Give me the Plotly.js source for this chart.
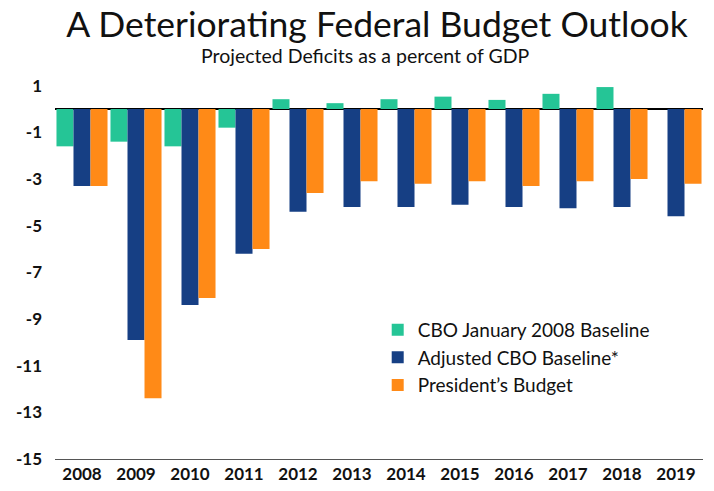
<!DOCTYPE html>
<html>
<head>
<meta charset="utf-8">
<script src="https://cdn.plot.ly/plotly-3.0.1.min.js"></script>
<style>html,body{margin:0;padding:0;background:#fff;}#chart{width:714px;height:491px;}</style>
</head>
<body>
<div id="chart"></div>
<script>
const years = ['2008','2009','2010','2011','2012','2013','2014','2015','2016','2017','2018','2019'];
const cboJan2008 = [-1.6, -1.4, -1.6, -0.8, 0.42, 0.25, 0.42, 0.53, 0.39, 0.65, 0.94, null];
const adjustedCbo = [-3.3, -9.9, -8.4, -6.2, -4.4, -4.2, -4.2, -4.1, -4.2, -4.25, -4.2, -4.6];
const presidentsBudget = [-3.3, -12.4, -8.1, -6.0, -3.6, -3.1, -3.2, -3.1, -3.3, -3.1, -3.0, -3.2];
const seriesNames = ['CBO January 2008 Baseline', 'Adjusted CBO Baseline*', "President\u2019s Budget"];
const yTicks = [1, -1, -3, -5, -7, -9, -11, -13, -15];

const FONT = 'Gill Sans, "Gill Sans MT", Lato, sans-serif';
const traces = [
  {type:'bar', x: years, y: cboJan2008, name: seriesNames[0], marker:{color:'#25c596'}},
  {type:'bar', x: years, y: adjustedCbo, name: seriesNames[1], marker:{color:'#163f84'}},
  {type:'bar', x: years, y: presidentsBudget, name: seriesNames[2], marker:{color:'#ff8a17'}}
];
const layout = {
  width: 714, height: 491,
  margin: {l: 55, r: 11, t: 81, b: 32},
  paper_bgcolor: '#fff', plot_bgcolor: '#fff',
  font: {family: FONT, color: '#111'},
  title: {text: 'A Deteriorating Federal Budget Outlook', font: {family: FONT, size: 35.5, color: '#111'},
          x: 0.497, xanchor: 'center', y: 0.95, yanchor: 'middle', xref: 'paper'},
  annotations: [{text: 'Projected Deficits as a percent of GDP', xref: 'paper', yref: 'paper',
                 x: 0.478, y: 1.068, xanchor: 'center', yanchor: 'middle', showarrow: false,
                 font: {family: FONT, size: 19.5, color: '#111'}}],
  barmode: 'group', bargap: 0.055, bargroupgap: 0,
  xaxis: {type: 'category', showgrid: false, showline: true, linecolor: '#555', linewidth: 1,
          ticks: '', tickfont: {family: FONT, size: 17, weight: 'bold', color: '#111'}, fixedrange: true},
  yaxis: {range: [-15, 1.2], tickvals: yTicks, ticktext: yTicks.map(String), showgrid: false,
          zeroline: true, zerolinecolor: '#000', zerolinewidth: 2.5, showline: false, ticks: '',
          ticklabelstandoff: 12,
          tickfont: {family: FONT, size: 17, weight: 'bold', color: '#111'}, fixedrange: true},
  legend: {x: 0.498, y: 0.392, xanchor: 'left', yanchor: 'top', bgcolor: 'rgba(0,0,0,0)',
           font: {family: FONT, size: 19, color: '#111'}, traceorder: 'normal'},
  showlegend: true
};
Plotly.newPlot('chart', traces, layout, {displayModeBar: false, staticPlot: true});
</script>
</body>
</html>
